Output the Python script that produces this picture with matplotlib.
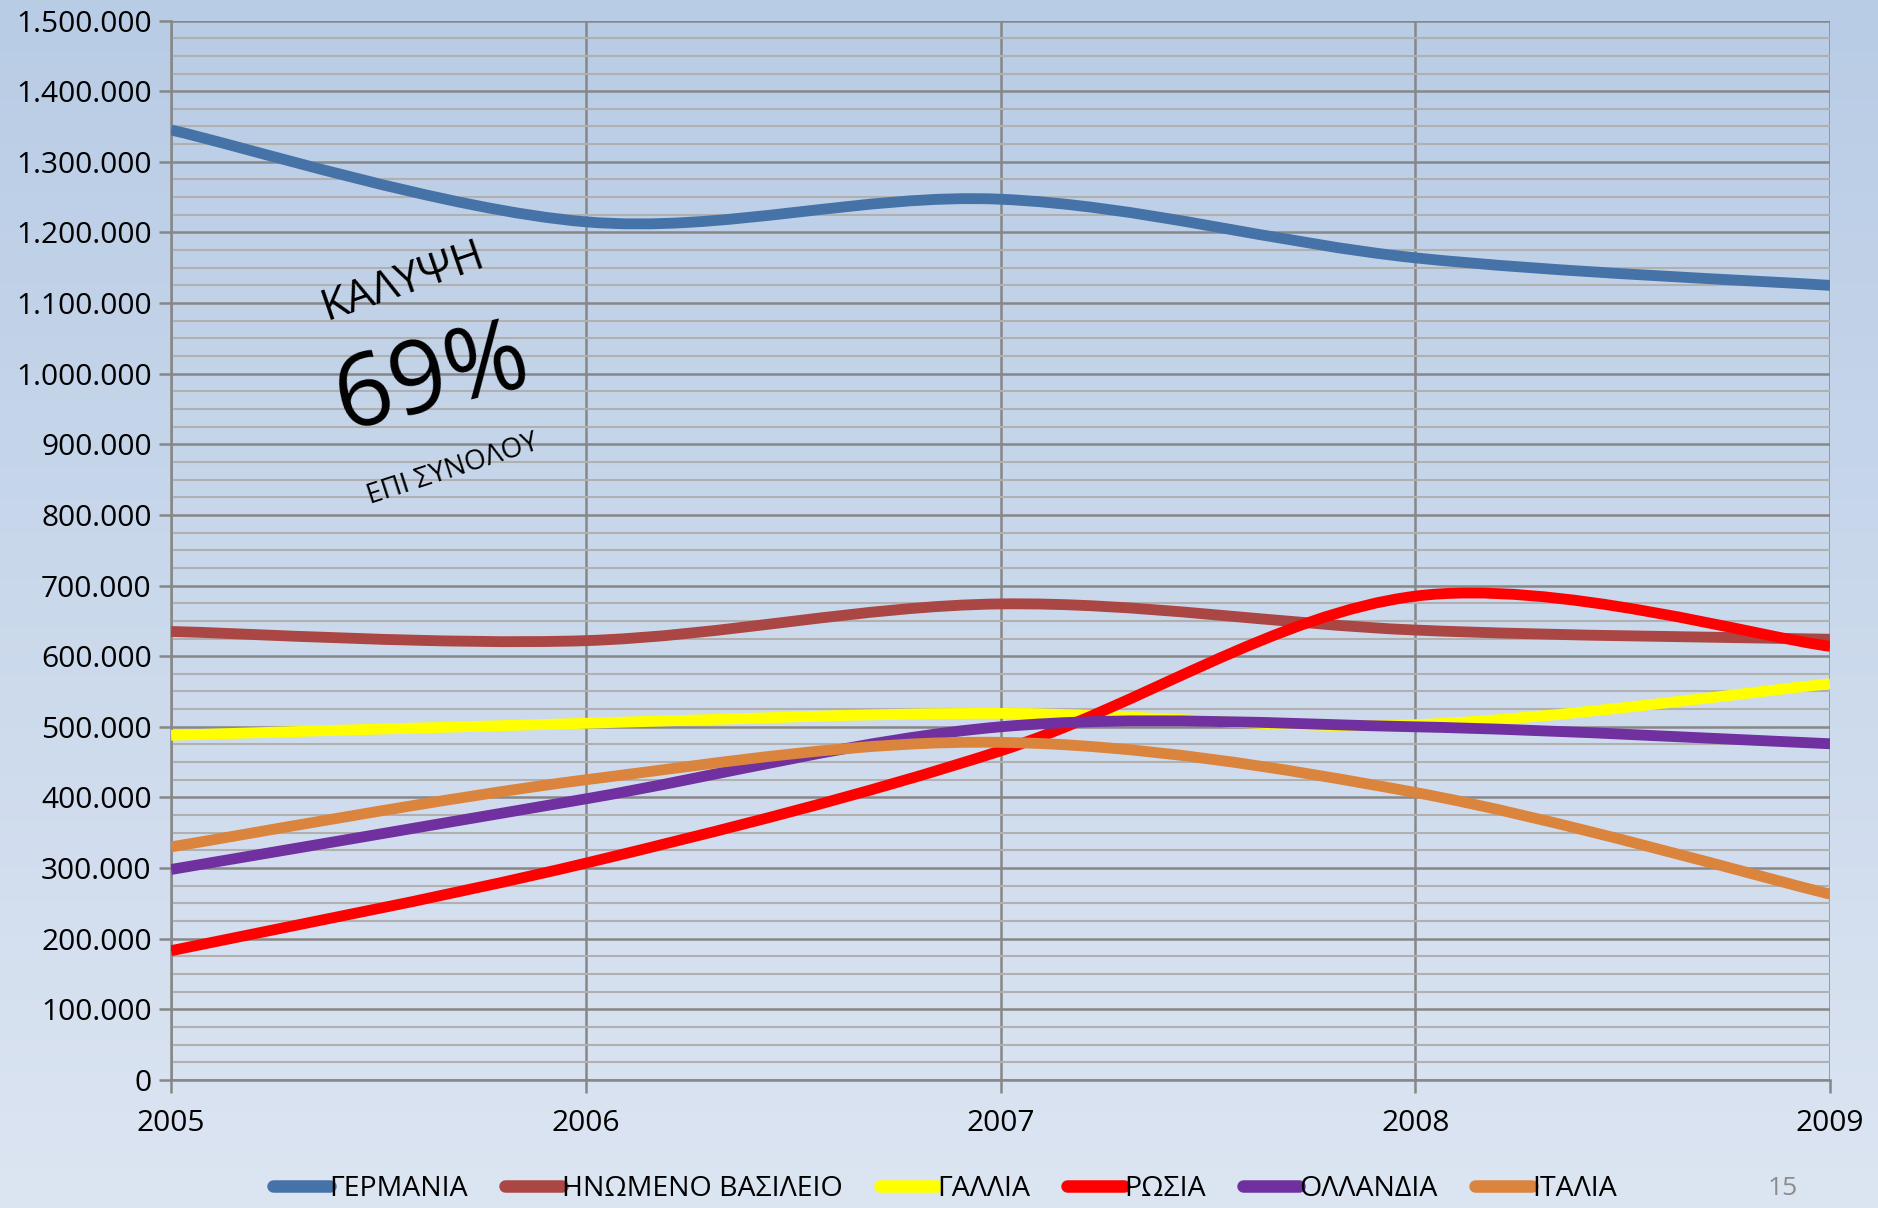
import matplotlib
matplotlib.use("Agg")
import matplotlib.pyplot as plt
import numpy as np
from matplotlib.path import Path
from matplotlib.patches import PathPatch
from matplotlib.lines import Line2D
from matplotlib.ticker import MultipleLocator, FuncFormatter

plt.rcParams['font.family'] = ['Open Sans', 'DejaVu Sans']

years = [2005, 2006, 2007, 2008, 2009]
germany = [1345000, 1215000, 1247000, 1164000, 1125000]
uk = [635000, 622000, 674000, 637000, 624000]
france = [488000, 505000, 519000, 503000, 561000]
russia = [183000, 307000, 466000, 685000, 614000]
netherlands = [298000, 398000, 500000, 500000, 476000]
italy = [330000, 425000, 478000, 407000, 263000]

names = ["ΓΕΡΜΑΝΙΑ", "ΗΝΩΜΕΝΟ ΒΑΣΙΛΕΙΟ", "ΓΑΛΛΙΑ", "ΡΩΣΙΑ", "ΟΛΛΑΝΔΙΑ", "ΙΤΑΛΙΑ"]
colors = ["#4572A7", "#AA4643", "#FFFF00", "#FF0000", "#7030A0", "#DB843D"]
series = [germany, uk, france, russia, netherlands, italy]


# smoothed line like excel: bezier segments with catmull-rom control points
def smooth_path(x, y):
    pts = np.column_stack([x, y]).astype(float)
    n = len(pts)
    verts = [pts[0]]
    codes = [Path.MOVETO]
    for i in range(n - 1):
        p0 = pts[max(i - 1, 0)]
        p1 = pts[i]
        p2 = pts[i + 1]
        p3 = pts[min(i + 2, n - 1)]
        verts += [p1 + (p2 - p0) / 6, p2 - (p3 - p1) / 6, p2]
        codes += [Path.CURVE4] * 3
    return Path(verts, codes)


fig = plt.figure(figsize=(18.78, 12.08), dpi=100)

# background gradient
bg = fig.add_axes([0, 0, 1, 1], zorder=-10)
grad = np.linspace(0, 1, 256).reshape(-1, 1)
top = np.array([0.722, 0.800, 0.898])
bot = np.array([0.863, 0.898, 0.949])
img = top + (bot - top) * grad[:, :, None] * np.ones((1, 1, 3))
bg.imshow(img, aspect='auto', extent=[0, 1, 0, 1])
bg.axis('off')

ax = fig.add_axes([0.0911, 0.106, 0.8834, 0.877])
ax.patch.set_alpha(0)

for vals, c, name in zip(series, colors, names):
    ax.add_patch(PathPatch(smooth_path(years, vals), facecolor='none', edgecolor=c,
                           lw=7.8, capstyle='butt', joinstyle='round', zorder=5))

ax.set_xlim(2005, 2009)
ax.set_ylim(0, 1500000)
ax.yaxis.set_major_locator(MultipleLocator(100000))
ax.yaxis.set_minor_locator(MultipleLocator(25000))
ax.xaxis.set_major_locator(MultipleLocator(1))
ax.yaxis.set_major_formatter(FuncFormatter(lambda v, p: f"{int(v):,}".replace(",", ".")))
ax.xaxis.set_major_formatter(FuncFormatter(lambda v, p: f"{int(v)}"))

ax.grid(which='major', axis='both', color='#878787', lw=1.8)
ax.grid(which='minor', axis='y', color='#b0b0b0', lw=1.5)
ax.set_axisbelow(True)
for s in ['top', 'right']:
    ax.spines[s].set_visible(False)
for s in ['left', 'bottom']:
    ax.spines[s].set_color('#878787')
    ax.spines[s].set_linewidth(1.8)
ax.tick_params(axis='both', which='major', length=9, width=1.8, color='#878787',
               labelsize=21.5, pad=5)
ax.tick_params(axis='y', which='minor', length=0)
ax.tick_params(axis='x', pad=12)

# annotation
ax.text(2005.56, 1130000, "ΚΑΛΥΨΗ", fontsize=31, rotation=19, ha='center', va='center')
ax.text(2005.63, 990000, "69%", fontsize=72, rotation=14, ha='center', va='center')
ax.text(2005.68, 864000, "ΕΠΙ ΣΥΝΟΛΟΥ", fontsize=20, rotation=18, ha='center', va='center')

handles = [Line2D([0], [0], color=c, lw=9, solid_capstyle='round') for c in colors]
leg = fig.legend(handles, names, loc='center', bbox_to_anchor=(0.503, 0.016), ncol=6,
                 fontsize=20.5, frameon=False, handlelength=2.0, handletextpad=0.0,
                 columnspacing=1.3)

fig.text(0.9495, 0.016, "15", fontsize=19, color='#8c8c8c', ha='center', va='center')

fig.savefig("out.png", dpi=100)
